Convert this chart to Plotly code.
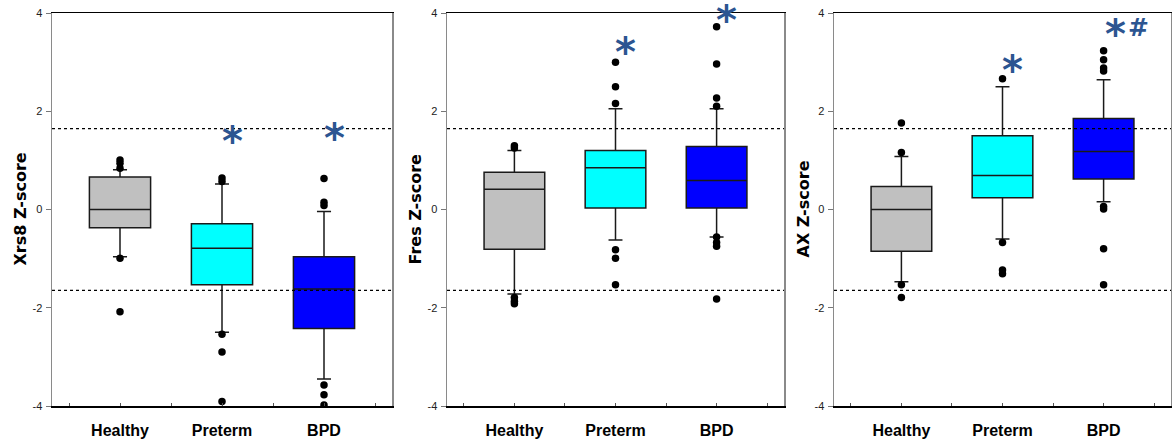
import plotly.graph_objects as go

categories = ["Healthy", "Preterm", "BPD"]
colors = ["#C0C0C0", "#00FFFF", "#0000FF"]

panel_titles = ["Xrs8 Z-score", "Fres Z-score", "AX Z-score"]

# per panel: [Healthy, Preterm, BPD]
q1 = [[-0.37, -1.53, -2.42], [-0.81, 0.03, 0.03], [-0.85, 0.24, 0.62]]
median = [[0.0, -0.79, -1.62], [0.41, 0.85, 0.59], [0.0, 0.69, 1.18]]
q3 = [[0.66, -0.29, -0.96], [0.76, 1.20, 1.28], [0.47, 1.50, 1.85]]
lowerfence = [[-0.96, -2.50, -3.45], [-1.72, -0.62, -0.56], [-1.47, -0.60, 0.16]]
upperfence = [[0.81, 0.52, -0.04], [1.20, 2.05, 2.05], [1.08, 2.50, 2.64]]

outliers = [
    [[1.01, 0.94, 0.84, -0.99, -2.08],
     [0.64, 0.57, -2.54, -2.90, -3.91],
     [0.63, 0.15, 0.08, -3.57, -3.77, -3.98]],
    [[1.30, 1.25, -1.79, -1.87, -1.92],
     [3.00, 2.50, 2.16, -0.82, -0.99, -1.53],
     [3.72, 2.96, 2.27, 2.10, -0.56, -0.67, -0.75, -1.82]],
    [[1.76, 1.16, -1.53, -1.79],
     [2.66, -0.67, -1.23, -1.31],
     [3.23, 3.05, 2.88, 2.82, 0.06, 0.01, -0.80, -1.53]],
]

# significance marks: (category index, label, y value)
marks = [
    [(1, "*", 1.52), (2, "*", 1.58)],
    [(1, "*", 3.33), (2, "*", 3.98)],
    [(1, "*", 2.96), (2, "*#", 3.70)],
]

ref_lines = [1.645, -1.645]

# ---- style / layout ----
x_domains = [[52 / 1172, 392 / 1172], [447 / 1172, 784 / 1172], [834 / 1172, 1171 / 1172]]
y_domain = [1 - 406 / 442, 1 - 13 / 442]
title_x = [20 / 1172, 415 / 1172, 803 / 1172]
# per character: (xanchor, xshift, font size, yshift)
mark_layout = {
    "*": [("center", 10, 40, -6)],
    "*#": [("center", 12, 40, -6), ("left", 23, 25, 0)],
}

fig = go.Figure()
layout = dict(
    width=1172, height=442,
    margin=dict(l=0, r=0, t=0, b=0, autoexpand=False),
    paper_bgcolor="white", plot_bgcolor="white",
    showlegend=False,
    shapes=[], annotations=[],
)

sans = "Liberation Sans, Arial, sans-serif"

for p in range(3):
    xa = "x" if p == 0 else f"x{p+1}"
    ya = "y" if p == 0 else f"y{p+1}"
    xkey = "xaxis" if p == 0 else f"xaxis{p+1}"
    ykey = "yaxis" if p == 0 else f"yaxis{p+1}"
    for c in range(3):
        fig.add_trace(go.Box(
            x=[c], q1=[q1[p][c]], median=[median[p][c]], q3=[q3[p][c]],
            lowerfence=[lowerfence[p][c]], upperfence=[upperfence[p][c]],
            width=0.6, whiskerwidth=0.23,
            fillcolor=colors[c], line=dict(color="#1a1a1a", width=1.5),
            boxpoints=False, hoverinfo="skip",
            xaxis=xa, yaxis=ya,
        ))
        fig.add_trace(go.Scatter(
            x=[c] * len(outliers[p][c]), y=outliers[p][c], mode="markers",
            marker=dict(color="black", size=7.5, symbol="circle"),
            xaxis=xa, yaxis=ya, hoverinfo="skip",
        ))
    layout[xkey] = dict(
        domain=x_domains[p], anchor=ya, range=[-0.6667, 2.6667],
        tickvals=[0, 1, 2], ticktext=categories,
        ticks="inside", ticklen=3, tickcolor="#555",
        minor=dict(tick0=0.5, dtick=1, ticks="inside", ticklen=3, tickcolor="#555"),
        showline=True, linecolor="black", linewidth=1.5, mirror=True,
        showgrid=False, zeroline=False,
        tickfont=dict(family=sans, size=16, color="black", weight="bold"),
        ticklabelstandoff=9,
    )
    layout[ykey] = dict(
        domain=y_domain, anchor=xa, range=[-4, 4],
        tickvals=[-4, -2, 0, 2, 4], ticktext=["-4", "-2", "0", "2", "4"],
        ticks="outside", ticklen=5, tickcolor="#777",
        showline=True, linecolor="#8a8a8a", linewidth=1.5, mirror=True,
        showgrid=False, zeroline=False,
        tickfont=dict(family=sans, size=11, color="#222"),
        ticklabelstandoff=1,
    )
    for v in ref_lines:
        layout["shapes"].append(dict(
            type="line", xref=f"{xa} domain", yref=ya, x0=0, x1=1, y0=v, y1=v,
            line=dict(color="black", width=1.3, dash="dot"),
        ))
    layout["annotations"].append(dict(
        text=panel_titles[p], textangle=-90, xref="paper", yref=ya,
        x=title_x[p], y=0, xanchor="center", yanchor="middle", showarrow=False,
        font=dict(family="DejaVu Sans, Arial, sans-serif", size=16, color="black", weight="bold"),
    ))
    for c, label, yv in marks[p]:
        for ch, (xanc, xs, fs, ys) in zip(label, mark_layout[label]):
            layout["annotations"].append(dict(
                text=ch, xref=xa, yref=ya, x=c, y=yv,
                xshift=xs, yshift=ys, borderpad=0,
                xanchor=xanc, yanchor="middle", showarrow=False,
                font=dict(family="DejaVu Sans, sans-serif", size=fs,
                          color="#2C5591", weight="bold"),
            ))

fig.update_layout(**layout)
fig.write_html(
    "out.html",
    config={"displayModeBar": False, "staticPlot": True},
    post_script="document.body.style.margin='0';document.body.style.overflow='hidden';",
)
